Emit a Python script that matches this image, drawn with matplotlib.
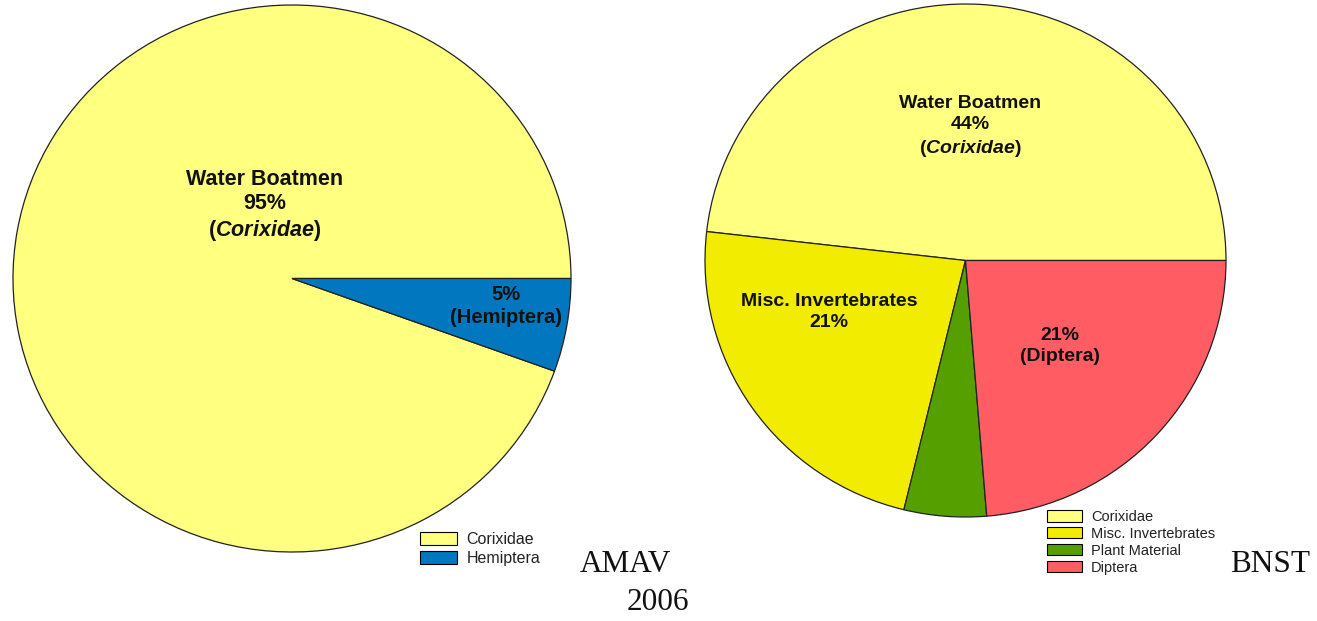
"""Diet composition pies, AMAV vs BNST, 2006."""

import matplotlib
matplotlib.use('Agg')
import matplotlib.pyplot as plt
from matplotlib.patches import Patch

plt.rcParams['font.family'] = ['Liberation Sans', 'DejaVu Sans']
plt.rcParams['mathtext.fontset'] = 'custom'
plt.rcParams['mathtext.it'] = 'Liberation Sans:italic:bold'
plt.rcParams['mathtext.rm'] = 'Liberation Sans:bold'

# wedge sizes (percent)
amav_labels = ['Corixidae', 'Hemiptera']
amav_values = [94.5, 5.5]
amav_colors = ['#FFFF80', '#0077BE']

bnst_labels = ['Corixidae', 'Misc. Invertebrates', 'Plant Material', 'Diptera']
bnst_values = [48.2, 23.0, 5.1, 23.7]
bnst_colors = ['#FFFF80', '#F2EC00', '#55A000', '#FF5C64']

W, H = 1317, 621
fig = plt.figure(figsize=(W / 100, H / 100), dpi=100)


def px_axes(x0, y0, x1, y1):
    # axes placed from pixel box (top-left origin)
    return fig.add_axes([x0 / W, 1 - y1 / H, (x1 - x0) / W, (y1 - y0) / H])


wedge_kw = dict(edgecolor='#222222', linewidth=0.9)

ax1 = px_axes(13, 5, 571, 552)
ax1.pie(amav_values, colors=amav_colors, startangle=0, counterclock=True,
        wedgeprops=wedge_kw)
ax1.set_aspect('auto')
ax1.set_xlim(-1, 1)
ax1.set_ylim(-1, 1)
ax1.axis('off')

ax2 = px_axes(705, 4, 1226, 517)
ax2.pie(bnst_values, colors=bnst_colors, startangle=0, counterclock=True,
        wedgeprops=wedge_kw)
ax2.set_aspect('auto')
ax2.set_xlim(-1, 1)
ax2.set_ylim(-1, 1)
ax2.axis('off')


def label(x, y, s, size, ls=1.3):
    fig.text(x / W, 1 - y / H, s, ha='center', va='center', fontsize=size,
             fontweight='bold', color='#111111', linespacing=ls)


label(265, 206, 'Water Boatmen\n95%\n($\\mathit{Corixidae}$)', 15.5, 1.2)
label(506, 306, '5%\n(Hemiptera)', 14.5, 1.3)
label(970, 127, 'Water Boatmen\n44%\n($\\mathit{Corixidae}$)', 14, 1.35)
label(829, 312, 'Misc. Invertebrates\n21%', 14)
label(1060, 346, '21%\n(Diptera)', 14, 1.3)

leg_kw = dict(frameon=False, handletextpad=0.6, borderpad=0, borderaxespad=0,
              loc='upper left')

h1 = [Patch(facecolor=c, edgecolor='black', linewidth=0.8) for c in amav_colors]
leg1 = fig.legend(h1, amav_labels, bbox_to_anchor=(420 / W, 1 - 532 / H),
                  fontsize=11.5, handlelength=2.3, handleheight=0.8,
                  labelspacing=0.25, **leg_kw)
h2 = [Patch(facecolor=c, edgecolor='black', linewidth=0.8) for c in bnst_colors]
leg2 = fig.legend(h2, bnst_labels, bbox_to_anchor=(1047 / W, 1 - 510 / H),
                  fontsize=10.5, handlelength=2.4, handleheight=0.8,
                  labelspacing=0.2, **leg_kw)
for leg in (leg1, leg2):
    for t in leg.get_texts():
        t.set_color('#222222')

serif = dict(family=['Liberation Serif', 'DejaVu Serif'], fontsize=22.5, color='#111111')
fig.text(580 / W, 1 - 565 / H, 'AMAV', ha='left', va='center', **serif)
fig.text(627 / W, 1 - 603 / H, '2006', ha='left', va='center', **serif)
fig.text(1230 / W, 1 - 565 / H, 'BNST', ha='left', va='center', **serif)

fig.savefig('out.png', dpi=100, facecolor='white')
